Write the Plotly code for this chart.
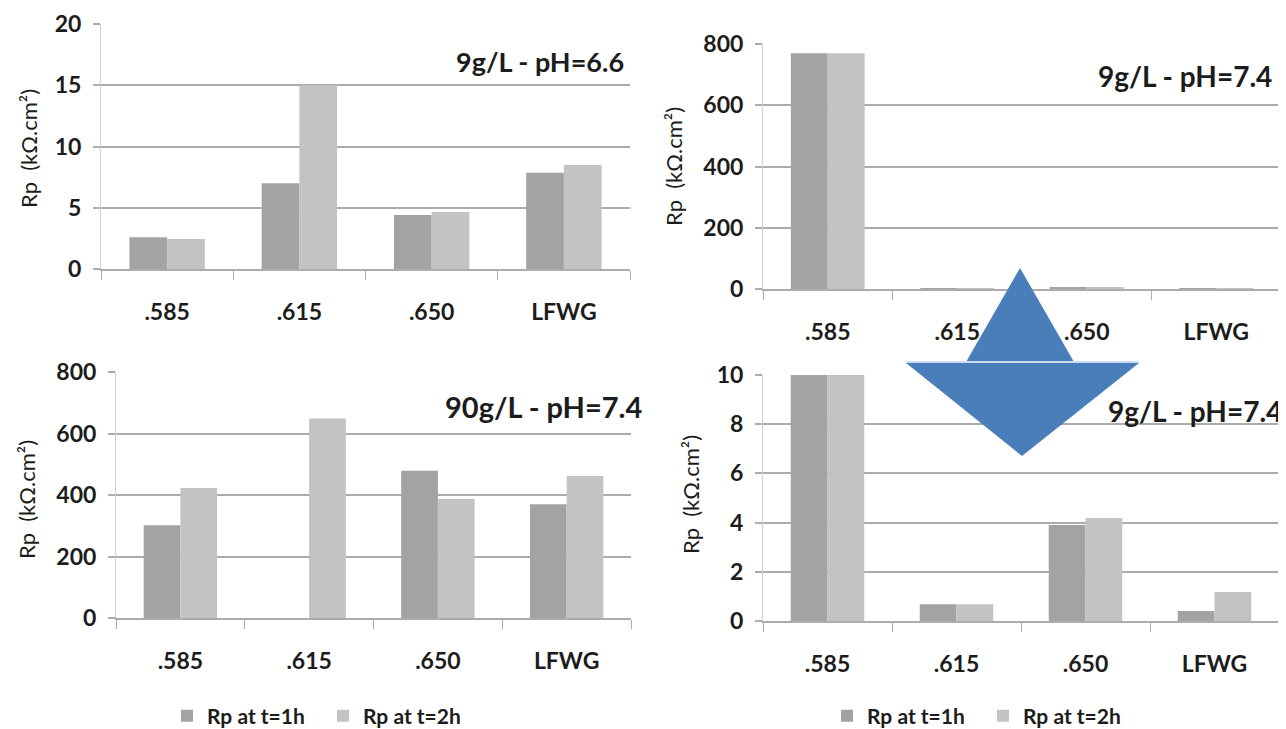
import plotly.graph_objects as go

# the page is drawn with the browser's default 8px body margin, so the figure
# is sized to the visible area and reference pixel positions are shifted by 8px
OFF = 8
FW, FH = 1286 - OFF, 729 - OFF

categories = [".585", ".615", ".650", "LFWG"]
series_names = ["Rp at t=1h", "Rp at t=2h"]

# 9 g/L - pH 6.6
rp1h_9_66 = [2.6, 7.0, 4.4, 7.85]
rp2h_9_66 = [2.45, 15.0, 4.65, 8.5]
# 9 g/L - pH 7.4 (shown at two scales)
rp1h_9_74 = [770, 0.68, 3.9, 0.41]
rp2h_9_74 = [770, 0.68, 4.19, 1.18]
# 90 g/L - pH 7.4
rp1h_90_74 = [302, 0, 479, 370]
rp2h_90_74 = [423, 649, 387, 462]

panel_titles = ["9g/L - pH=6.6", "9g/L - pH=7.4", "90g/L - pH=7.4", "9g/L - pH=7.4"]
y_ranges = [[0, 20], [0, 800], [0, 800], [0, 10]]
y_dticks = [5, 200, 200, 2]
y_title = "Rp  (kΩ.cm²)"

DARK = "#a3a3a3"
LIGHT = "#c3c3c3"
GRID = "#acacac"
TXT = "#1c1c1c"
BLUE = "#4a7ebb"
FONT = "Lato"


def px(x):
    return (x - OFF) / FW


def py(y):
    return 1 - (y - OFF) / FH


# panel boxes in reference pixels: (x0, x1, ytop, ybottom)
boxes = [(101, 630, 24, 269), (763, 1281, 44, 289), (116, 631, 372, 618), (763, 1279, 375, 621)]

data_1h = [rp1h_9_66, rp1h_9_74, rp1h_90_74, rp1h_9_74]
data_2h = [rp2h_9_66, rp2h_9_74, rp2h_90_74, rp2h_9_74]

fig = go.Figure()
for i in range(4):
    sfx = "" if i == 0 else str(i + 1)
    legend_id = {2: "legend", 3: "legend2"}.get(i, "legend")
    show = i in (2, 3)
    for name, vals, col in ((series_names[0], data_1h[i], DARK), (series_names[1], data_2h[i], LIGHT)):
        fig.add_trace(go.Bar(
            x=categories, y=vals, name=name, marker=dict(color=col, line=dict(width=0)),
            xaxis="x" + sfx, yaxis="y" + sfx, showlegend=show, legend=legend_id,
        ))

layout = dict(
    width=FW, height=FH, margin=dict(l=0, r=0, t=0, b=0, pad=0, autoexpand=False),
    paper_bgcolor="white", plot_bgcolor="white",
    barmode="group", bargap=0.43, bargroupgap=0,
    font=dict(family=FONT, color=TXT, size=20),
    showlegend=True,
)

annotations = []
for i, (x0, x1, yt, yb) in enumerate(boxes):
    sfx = "" if i == 0 else str(i + 1)
    layout["xaxis" + sfx] = dict(
        domain=[px(x0), min(px(x1), 1)], anchor="y" + sfx, type="category",
        showgrid=False, showline=True, linecolor=GRID, linewidth=1.5,
        ticks="outside", tickson="boundaries", ticklen=9, tickcolor=GRID, tickwidth=1,
        ticklabelstandoff=22, tickfont=dict(size=23, family=FONT, color=TXT, weight="bold"),
        automargin=False, fixedrange=True,
    )
    layout["yaxis" + sfx] = dict(
        domain=[py(yb), py(yt)], anchor="x" + sfx, range=y_ranges[i], dtick=y_dticks[i],
        showgrid=True, gridcolor=GRID, gridwidth=1.5, zeroline=False,
        showline=True, linecolor="#d0d0d0", linewidth=1,
        ticks="outside", ticklen=7, tickcolor=GRID, tickwidth=1.5,
        ticklabelstandoff=7, tickfont=dict(size=23, family=FONT, color=TXT, weight="bold"),
        automargin=False, fixedrange=True,
    )

# panel titles
title_pos = [(625, 62, 27), (1273, 76, 28), (643, 406, 29), (1283, 411, 28)]
for t, (xr, yc, fs) in zip(panel_titles, title_pos):
    annotations.append(dict(
        text="<b>" + t + "</b>", x=px(xr), y=py(yc), xref="paper", yref="paper",
        xanchor="right", yanchor="middle", borderpad=0,
        showarrow=False, font=dict(size=fs, family=FONT, color=TXT),
    ))

# y-axis titles
ytitle_pos = [(28, 149), (673, 167), (26, 500), (690, 495)]
for (xc, yc) in ytitle_pos:
    annotations.append(dict(
        text=y_title, x=px(xc), y=py(yc), xref="paper", yref="paper", xanchor="center", yanchor="middle",
        textangle=-90, showarrow=False, font=dict(size=22, family=FONT, color=TXT),
    ))

layout["annotations"] = annotations

# legends
leg_common = dict(orientation="h", xanchor="left", yanchor="middle", bgcolor="rgba(0,0,0,0)",
                  font=dict(size=21, family=FONT, color=TXT, weight="bold"),
                  traceorder="normal", itemclick=False, itemdoubleclick=False,
                  entrywidth=111, entrywidthmode="pixels")
layout["legend"] = dict(leg_common, x=px(167), y=py(716))
layout["legend2"] = dict(leg_common, x=px(827), y=py(716))


# arrow decoration (up triangle + down triangle)
def path(points):
    return "M " + " L ".join(f"{px(a):.5f},{py(b):.5f}" for a, b in points) + " Z"


layout["shapes"] = [
    dict(type="path", xref="paper", yref="paper", layer="above",
         path=path([(1020, 268), (966, 362), (1074, 362)]),
         fillcolor=BLUE, line=dict(width=0)),
    dict(type="path", xref="paper", yref="paper", layer="above",
         path=path([(906, 363), (1139, 363), (1022, 456)]),
         fillcolor=BLUE, line=dict(width=0)),
    dict(type="line", xref="paper", yref="paper", layer="above",
         x0=px(906), x1=px(1139), y0=py(362), y1=py(362),
         line=dict(color="#c8dbf0", width=2)),
]

fig.update_layout(**layout)
fig.write_html("out.html")
